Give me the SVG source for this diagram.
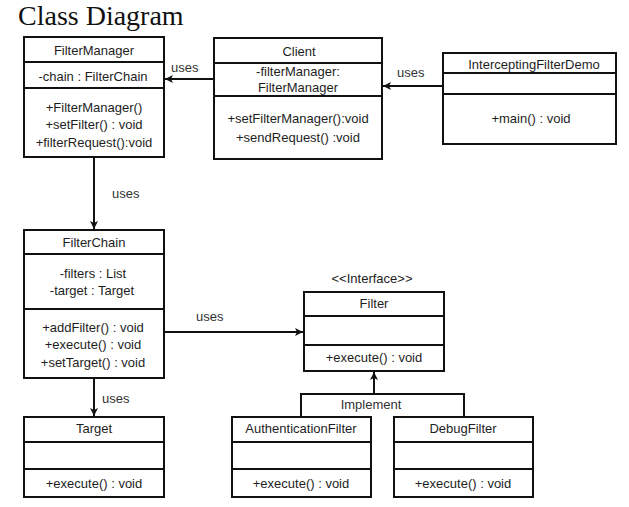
<svg xmlns="http://www.w3.org/2000/svg" width="629" height="507" viewBox="0 0 629 507">
  <style>
    .box { fill: #ffffff; stroke: #111111; stroke-width: 2; }
    .sep { stroke: #111111; stroke-width: 2; }
    .t { font-family: "Liberation Sans", Arial, sans-serif; font-size: 13px; fill: #1e1e1e; text-anchor: middle; }
    .lbl { font-family: "Liberation Sans", Arial, sans-serif; font-size: 13px; fill: #333333; }
    .edge { fill: none; stroke: #111111; stroke-width: 2; }
    .title { font-family: "Liberation Serif", "Times New Roman", serif; font-size: 28px; fill: #111111; }
  </style>
  <defs>
    <marker id="arrow" markerWidth="10" markerHeight="10" refX="9" refY="5" orient="auto" markerUnits="userSpaceOnUse">
      <path d="M1,1 L9,5 L1,9 L3,5 Z" fill="#111111"/>
    </marker>
  </defs>

  <rect width="629" height="507" fill="#ffffff"/>
  <text class="title" x="18" y="25">Class Diagram</text>

  <!-- classes -->
  <g id="FilterManager">
    <rect class="box" x="24" y="37" width="140" height="120"/>
    <line class="sep" x1="24" y1="62" x2="164" y2="62"/>
    <line class="sep" x1="24" y1="88" x2="164" y2="88"/>
    <text class="t" x="94" y="55">FilterManager</text>
    <text class="t" x="93" y="81">-chain  : FilterChain</text>
    <text class="t" x="94" y="112">+FilterManager()</text>
    <text class="t" x="94" y="129">+setFilter()  : void</text>
    <text class="t" x="94" y="147">+filterRequest():void</text>
  </g>

  <g id="Client">
    <rect class="box" x="214" y="38" width="168" height="121"/>
    <line class="sep" x1="214" y1="63" x2="382" y2="63"/>
    <line class="sep" x1="214" y1="96" x2="382" y2="96"/>
    <text class="t" x="299" y="56">Client</text>
    <text class="t" x="298" y="76">-filterManager:</text>
    <text class="t" x="298" y="92">FilterManager</text>
    <text class="t" x="298" y="123">+setFilterManager():void</text>
    <text class="t" x="298" y="142">+sendRequest()   :void</text>
  </g>

  <g id="InterceptingFilterDemo">
    <rect class="box" x="443" y="53" width="173" height="91"/>
    <line class="sep" x1="443" y1="73" x2="616" y2="73"/>
    <line class="sep" x1="443" y1="94" x2="616" y2="94"/>
    <text class="t" x="534" y="69">InterceptingFilterDemo</text>
    <text class="t" x="531" y="123">+main()  : void</text>
  </g>

  <g id="FilterChain">
    <rect class="box" x="24" y="230" width="140" height="148"/>
    <line class="sep" x1="24" y1="254" x2="164" y2="254"/>
    <line class="sep" x1="24" y1="309" x2="164" y2="309"/>
    <text class="t" x="94" y="247">FilterChain</text>
    <text class="t" x="93" y="278">-filters  : List</text>
    <text class="t" x="92" y="295">-target : Target</text>
    <text class="t" x="93" y="332">+addFilter()  : void</text>
    <text class="t" x="93" y="349">+execute() : void</text>
    <text class="t" x="93" y="367">+setTarget() : void</text>
  </g>

  <g id="Filter">
    <text class="t" x="372" y="283">&lt;&lt;Interface&gt;&gt;</text>
    <rect class="box" x="304" y="292" width="140" height="79"/>
    <line class="sep" x1="304" y1="316" x2="444" y2="316"/>
    <line class="sep" x1="304" y1="345" x2="444" y2="345"/>
    <text class="t" x="374" y="308">Filter</text>
    <text class="t" x="374" y="362">+execute() : void</text>
  </g>

  <g id="Target">
    <rect class="box" x="24" y="417" width="140" height="80"/>
    <line class="sep" x1="24" y1="442" x2="164" y2="442"/>
    <line class="sep" x1="24" y1="469" x2="164" y2="469"/>
    <text class="t" x="94" y="433">Target</text>
    <text class="t" x="94" y="488">+execute() : void</text>
  </g>

  <g id="AuthenticationFilter">
    <rect class="box" x="232" y="417" width="139" height="80"/>
    <line class="sep" x1="232" y1="442" x2="371" y2="442"/>
    <line class="sep" x1="232" y1="469" x2="371" y2="469"/>
    <text class="t" x="301" y="433">AuthenticationFilter</text>
    <text class="t" x="301" y="488">+execute() : void</text>
  </g>

  <g id="DebugFilter">
    <rect class="box" x="394" y="417" width="139" height="80"/>
    <line class="sep" x1="394" y1="442" x2="533" y2="442"/>
    <line class="sep" x1="394" y1="469" x2="533" y2="469"/>
    <text class="t" x="463" y="433">DebugFilter</text>
    <text class="t" x="463" y="488">+execute() : void</text>
  </g>

  <!-- connectors -->
  <g id="connectors">
    <line class="edge" x1="214" y1="79" x2="165" y2="79" marker-end="url(#arrow)"/>
    <text class="lbl" x="171" y="72">uses</text>

    <line class="edge" x1="443" y1="86" x2="383" y2="86" marker-end="url(#arrow)"/>
    <text class="lbl" x="397" y="77">uses</text>

    <line class="edge" x1="94" y1="157" x2="94" y2="229" marker-end="url(#arrow)"/>
    <text class="lbl" x="112" y="198">uses</text>

    <line class="edge" x1="164" y1="332" x2="303" y2="332" marker-end="url(#arrow)"/>
    <text class="lbl" x="196" y="321">uses</text>

    <line class="edge" x1="94" y1="378" x2="94" y2="416" marker-end="url(#arrow)"/>
    <text class="lbl" x="102" y="403">uses</text>

    <polyline class="edge" points="301,417 301,394 464,394 464,417"/>
    <line class="edge" x1="374" y1="394" x2="374" y2="372" marker-end="url(#arrow)"/>
    <text class="lbl" x="371" y="409" text-anchor="middle" font-size="14">Implement</text>
  </g>
</svg>
